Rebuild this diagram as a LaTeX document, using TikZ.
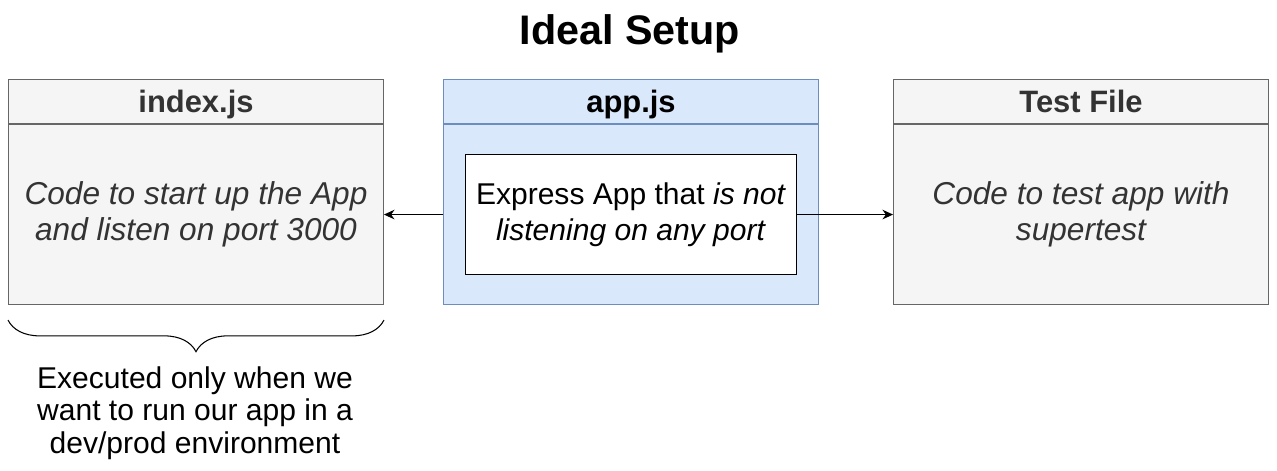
\documentclass[tikz,border=0pt]{standalone}
\usepackage{fontspec}
\setmainfont{Liberation Sans}
\usetikzlibrary{positioning,arrows.meta,decorations.pathreplacing}
\definecolor{boxfill}{HTML}{F5F5F5}
\definecolor{boxline}{HTML}{666666}
\definecolor{appfill}{HTML}{DAE8FC}
\definecolor{appline}{HTML}{6C8EBF}
\definecolor{txtgray}{HTML}{333333}
\newcommand{\bodyfont}{\fontsize{17.6}{20.5}\selectfont}
\newcommand{\plainfont}{\fontsize{17.1}{20.3}\selectfont}
\newcommand{\notefont}{\fontsize{17.1}{18.5}\selectfont}
\newcommand{\titlefont}{\fontsize{23.5}{28}\selectfont}
\begin{document}
\begin{tikzpicture}[x=0.02cm,y=-0.02cm,
		 hdr/.style={draw=boxline,fill=boxfill,line width=0.6pt,inner sep=0pt,minimum width=7.5cm,minimum height=0.88cm,text height=12.7pt,text depth=0pt,font=\bodyfont\bfseries,text=txtgray},
		 bdy/.style={draw=boxline,fill=boxfill,line width=0.6pt,inner sep=0pt,minimum width=7.5cm,minimum height=3.6cm,font=\fontsize{18}{20.5}\selectfont\itshape,text=txtgray,align=center},
		 apphdr/.style={hdr,draw=appline,fill=appfill,text=black},
		 appbdy/.style={bdy,draw=appline,fill=appfill},
		 arr/.style={-{Stealth[length=6pt,width=5.5pt]},line width=0.6pt}]
		 \useasboundingbox (0,0) rectangle (1277,470);
		 \node [font=\titlefont\bfseries] (title) at (630,34) {Ideal Setup};
		 \node [hdr,anchor=north west] (idxhdr) at (8,79) {index.js};
		 \node [bdy,below=0pt of idxhdr] (idxbody) {Code to start up the App\\and listen on port 3000};
		 \node [apphdr,anchor=north west] (apphdr) at (443,79) {app.js};
		 \node [appbdy,below=0pt of apphdr] (appbody) {};
		 \node [draw=black,fill=white,line width=0.6pt,inner sep=0pt,minimum width=6.62cm,minimum height=2.4cm,font=\plainfont,align=center] (express) at (appbody.center) {Express App that \textit{is not}\\\textit{listening on any port}};
		 \node [hdr,anchor=north west] (testhdr) at (893,79) {Test File};
		 \node [bdy,below=0pt of testhdr] (testbody) {Code to test app with\\supertest};
		 \draw [arr] (appbody.west) -- (idxbody.east);
		 \draw [arr] (express.east) -- (testbody.west);
		 \draw [decorate,decoration={brace,amplitude=18pt},line width=0.6pt] ([yshift=-0.3cm]idxbody.south east) -- ([yshift=-0.3cm]idxbody.south west);
		 \node [font=\notefont,align=center] (note) at (195,413) {Executed only when we\\want to run our app in a\\dev/prod environment};
\end{tikzpicture}
\end{document}
